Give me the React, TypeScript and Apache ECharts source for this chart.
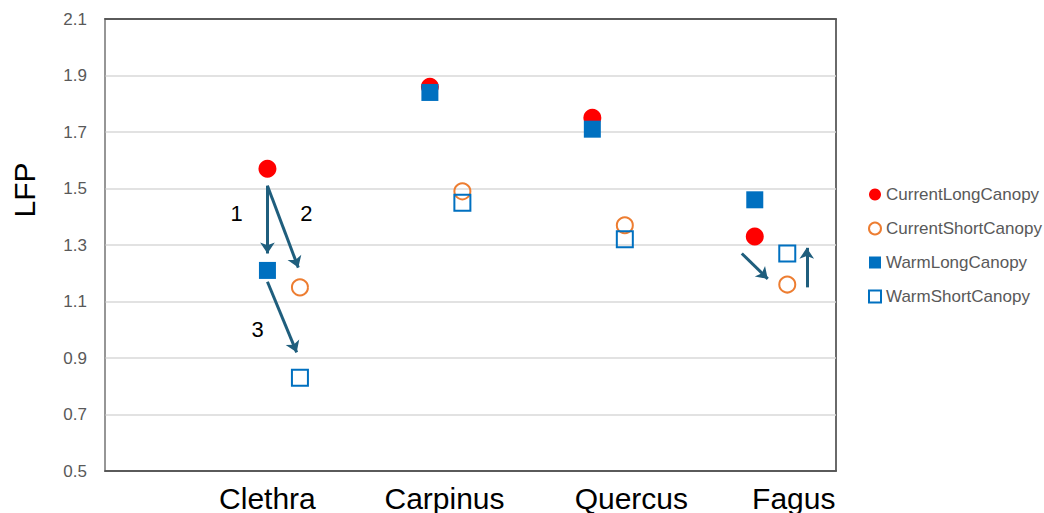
import React, { useEffect, useRef } from "react";
import * as echarts from "echarts";

// ---- data ----
const categories = ["Clethra", "Carpinus", "Quercus", "Fagus"];
const currentLong = [1.57, 1.86, 1.75, 1.33];
const currentShort = [1.15, 1.49, 1.37, 1.16];
const warmLong = [1.21, 1.84, 1.71, 1.46];
const warmShort = [0.83, 1.45, 1.32, 1.27];
const yMin = 0.5;
const yMax = 2.1;
const yStep = 0.2;

// annotation arrows in data units [x1, y1, x2, y2]
const arrows = [
  [1.0, 1.51, 1.0, 1.27],
  [1.0, 1.51, 1.19, 1.22],
  [1.0, 1.17, 1.18, 0.92],
  [3.92, 1.27, 4.08, 1.18],
  [4.32, 1.15, 4.32, 1.29],
];
const arrowNumbers = [
  { text: "1", x: 0.81, y: 1.41 },
  { text: "2", x: 1.24, y: 1.41 },
  { text: "3", x: 0.94, y: 1.0 },
];

// layout constants
const LONG_OFFSET = 1.0;
const SHORT_OFFSET = 1.2;
const labelPos = [1.0, 2.09, 3.24, 4.24];

const pairs = (vals: number[], off: number) => vals.map((v, i) => [i + off, v]);

export default function App() {
  const ref = useRef<HTMLDivElement>(null);
  useEffect(() => {
    document.body.style.margin = "0";
    const chart = echarts.init(ref.current!, null, { renderer: "svg" });
    const font = "'Liberation Sans', Arial, sans-serif";
    const blue = "#0070C0";
    const orange = "#ED7D31";
    const arrowColor = "#1F5E7D";
    const dark = "#3a3a3a";
    chart.setOption({
      animation: false,
      backgroundColor: "#ffffff",
      grid: { left: 105, top: 19, right: 208, bottom: 41, show: true, borderColor: dark, borderWidth: 1.5 },
      xAxis: [
        {
          type: "value",
          min: 0,
          max: 4.5,
          z: 5,
          axisLine: { show: true, lineStyle: { color: dark, width: 1.5 } },
          axisTick: { show: false },
          splitLine: { show: false },
          axisLabel: {
            customValues: labelPos,
            margin: 12,
            fontFamily: font,
            fontSize: 30,
            color: "#000",
            formatter: (v: number) => {
              let best = 0;
              labelPos.forEach((p, i) => {
                if (Math.abs(p - v) < Math.abs(labelPos[best] - v)) best = i;
              });
              return categories[best];
            },
          },
        },
        {
          type: "value",
          position: "top",
          min: 0,
          max: 4.5,
          z: 5,
          axisLine: { show: true, lineStyle: { color: dark, width: 1.5 } },
          axisTick: { show: false },
          splitLine: { show: false },
          axisLabel: { show: false },
        },
      ],
      yAxis: {
        type: "value",
        min: yMin,
        max: yMax,
        interval: yStep,
        axisLine: { show: true, lineStyle: { color: "#a6a6a6", width: 1.5 } },
        axisTick: { show: false },
        splitLine: { lineStyle: { color: "#d9d9d9", width: 1.5 } },
        axisLabel: {
          margin: 18,
          fontFamily: font,
          fontSize: 17,
          color: "#595959",
          formatter: (v: number) => v.toFixed(1),
        },
      },
      legend: {
        orient: "vertical",
        left: 863,
        top: 181,
        itemWidth: 12,
        itemHeight: 12,
        itemGap: 17,
        data: ["CurrentLongCanopy", "CurrentShortCanopy", "WarmLongCanopy", "WarmShortCanopy"],
        textStyle: { fontFamily: font, fontSize: 17, color: "#595959" },
      },
      graphic: [
        {
          type: "text",
          x: 24,
          y: 190,
          rotation: Math.PI / 2,
          style: {
            text: "LFP",
            fontFamily: font,
            fontSize: 30,
            fill: "#000",
            align: "center",
            verticalAlign: "middle",
          },
        },
      ],
      series: [
        {
          name: "CurrentLongCanopy",
          type: "scatter",
          symbol: "circle",
          symbolSize: 18,
          itemStyle: { color: "#FF0000", opacity: 1 },
          data: pairs(currentLong, LONG_OFFSET),
        },
        {
          name: "CurrentShortCanopy",
          type: "scatter",
          symbol: "circle",
          symbolSize: 16,
          itemStyle: { color: "rgba(0,0,0,0)", borderColor: orange, borderWidth: 2, opacity: 1 },
          data: pairs(currentShort, SHORT_OFFSET),
        },
        {
          name: "WarmLongCanopy",
          type: "scatter",
          symbol: "rect",
          symbolSize: 17,
          itemStyle: { color: blue, opacity: 1 },
          data: pairs(warmLong, LONG_OFFSET),
        },
        {
          name: "WarmShortCanopy",
          type: "scatter",
          symbol: "rect",
          symbolSize: 16,
          itemStyle: { color: "rgba(0,0,0,0)", borderColor: blue, borderWidth: 2, opacity: 1 },
          data: pairs(warmShort, SHORT_OFFSET),
        },
        {
          name: "annotations",
          type: "scatter",
          symbolSize: 0,
          silent: true,
          itemStyle: { opacity: 1 },
          label: {
            show: true,
            position: "inside",
            fontFamily: font,
            fontSize: 22,
            color: "#000",
            opacity: 1,
            formatter: (p: any) => p.name,
          },
          data: arrowNumbers.map((a) => ({ name: a.text, value: [a.x, a.y] })),
          markLine: {
            silent: true,
            symbol: ["none", "arrow"],
            symbolSize: 11,
            label: { show: false },
            lineStyle: { color: arrowColor, width: 3, type: "solid", opacity: 1 },
            emphasis: { disabled: true },
            data: arrows.map((a) => [{ coord: [a[0], a[1]] }, { coord: [a[2], a[3]] }]),
          },
        },
      ],
    });
    return () => chart.dispose();
  }, []);
  return <div ref={ref} style={{ width: 1044, height: 513, display: "block" }} />;
}
